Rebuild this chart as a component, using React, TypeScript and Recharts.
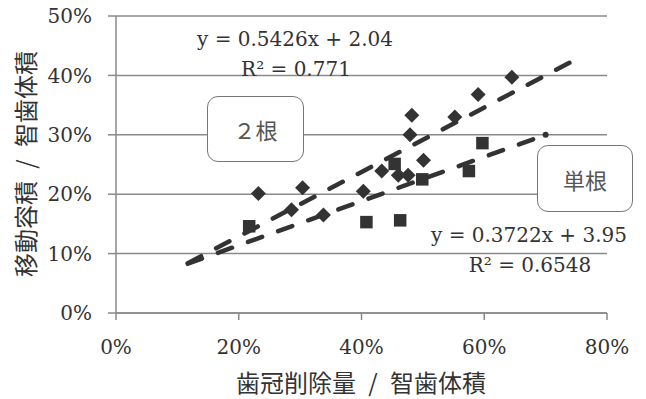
import React from 'react';
import { ComposedChart, Scatter, Line, XAxis, YAxis, CartesianGrid } from 'recharts';

const xTicks = [0, 20, 40, 60, 80];
const yTicks = [0, 10, 20, 30, 40, 50];

// 2根 (diamonds)
const twoRootX = [23.2, 30.4, 28.6, 33.8, 40.3, 43.3, 46.0, 47.6, 50.1, 47.9, 48.2, 55.2, 59.0, 64.5];
const twoRootY = [20.1, 21.1, 17.4, 16.5, 20.5, 23.9, 23.2, 23.2, 25.7, 30.0, 33.3, 33.0, 36.8, 39.7];

// 単根 (squares)
const singleRootX = [21.7, 40.8, 46.3, 45.4, 49.9, 57.5, 59.7];
const singleRootY = [14.6, 15.3, 15.6, 25.1, 22.5, 23.9, 28.6];

// trendlines (from the printed equations)
const twoRootSlope = 0.5426;
const twoRootIntercept = 2.04;
const twoRootRange = [11.7, 74.8];
const singleRootSlope = 0.3722;
const singleRootIntercept = 3.95;
const singleRootRange = [11.7, 70.0];

const twoRootEq = ['y = 0.5426x + 2.04', 'R² = 0.771'];
const singleRootEq = ['y = 0.3722x + 3.95', 'R² = 0.6548'];

const xTitle = '歯冠削除量 / 智歯体積';
const yTitle = '移動容積 / 智歯体積';
const twoRootName = '２根';
const singleRootName = '単根';

const twoRootData = twoRootX.map((x, i) => ({ x, y: twoRootY[i] }));
const singleRootData = singleRootX.map((x, i) => ({ x, y: singleRootY[i] }));
const twoRootTrend = twoRootRange.map((x) => ({ x, y: twoRootSlope * x + twoRootIntercept }));
const singleRootTrend = singleRootRange.map((x) => ({ x, y: singleRootSlope * x + singleRootIntercept }));

const INK = '#333333';
const GRID = '#8a8a8a';
const SERIF = '"DejaVu Serif", serif';
const CJK = '"Noto Sans CJK JP", sans-serif';

const Diamond = (props: any) => {
  const { cx, cy } = props;
  const r = 7.5;
  return <polygon points={`${cx},${cy - r} ${cx + r},${cy} ${cx},${cy + r} ${cx - r},${cy}`} fill={INK} />;
};

const Square = (props: any) => {
  const { cx, cy } = props;
  const s = 12.5;
  return <rect x={cx - s / 2} y={cy - s / 2} width={s} height={s} fill={INK} />;
};

const EndDot = (props: any) => {
  const { cx, cy, index } = props;
  if (index !== singleRootTrend.length - 1) return <g key={`d${index}`} />;
  return <circle key={`d${index}`} cx={cx} cy={cy} r={3} fill={INK} />;
};

const eqStyle: React.CSSProperties = {
  position: 'absolute',
  fontFamily: SERIF,
  fontSize: 20,
  lineHeight: '20px',
  color: INK,
  whiteSpace: 'nowrap',
  transform: 'translateX(-50%)',
};

const boxStyle: React.CSSProperties = {
  position: 'absolute',
  boxSizing: 'border-box',
  border: '1.5px solid #777',
  borderRadius: 11,
  background: '#fff',
  display: 'flex',
  alignItems: 'center',
  justifyContent: 'center',
  fontFamily: CJK,
  fontSize: 22,
  color: '#555',
};

export default function App() {
  return (
    <div style={{ position: 'absolute', left: 0, top: 0, width: 646, height: 399, background: '#fff' }}>
      <ComposedChart width={646} height={399} margin={{ top: 16, right: 39, left: 0, bottom: 0 }}>
        <CartesianGrid horizontal vertical={false} stroke={GRID} strokeWidth={1.5} />
        <XAxis
          type="number"
          dataKey="x"
          domain={[0, 80]}
          ticks={xTicks}
          height={86}
          tickFormatter={(v: number) => `${v}%`}
          stroke={GRID}
          strokeWidth={1.5}
          tickSize={7}
          tickMargin={20}
          tick={{ fill: INK, fontFamily: SERIF, fontSize: 20 }}
          allowDataOverflow
        />
        <YAxis
          type="number"
          dataKey="y"
          domain={[0, 50]}
          ticks={yTicks}
          width={116}
          tickFormatter={(v: number) => `${v}%`}
          stroke={GRID}
          strokeWidth={1.5}
          tickSize={8}
          tickMargin={16}
          tick={{ fill: INK, fontFamily: SERIF, fontSize: 20 }}
          allowDataOverflow
        />
        <Scatter data={twoRootData} shape={Diamond} isAnimationActive={false} />
        <Scatter data={singleRootData} shape={Square} isAnimationActive={false} />
        <Line
          data={twoRootTrend}
          dataKey="y"
          type="linear"
          stroke={INK}
          strokeWidth={4.5}
          strokeDasharray="15 17"
          strokeLinecap="round"
          dot={false}
          activeDot={false}
          isAnimationActive={false}
        />
        <Line
          data={singleRootTrend}
          dataKey="y"
          type="linear"
          stroke={INK}
          strokeWidth={4.5}
          strokeDasharray="15 17"
          strokeLinecap="round"
          dot={EndDot}
          activeDot={false}
          isAnimationActive={false}
        />
      </ComposedChart>

      <div style={{ ...eqStyle, left: 295, top: 29 }}>{twoRootEq[0]}</div>
      <div style={{ ...eqStyle, left: 296, top: 59 }}>{twoRootEq[1]}</div>
      <div style={{ ...eqStyle, left: 529, top: 225 }}>{singleRootEq[0]}</div>
      <div style={{ ...eqStyle, left: 530, top: 255 }}>{singleRootEq[1]}</div>

      <div style={{ ...boxStyle, left: 207, top: 96, width: 97, height: 66 }}>{twoRootName}</div>
      <div style={{ ...boxStyle, left: 537, top: 145, width: 96, height: 67 }}>{singleRootName}</div>

      <div
        style={{
          position: 'absolute',
          left: 361,
          top: 382,
          transform: 'translate(-50%, -50%)',
          fontFamily: CJK,
          fontSize: 24,
          lineHeight: '24px',
          wordSpacing: 7,
          color: INK,
          whiteSpace: 'nowrap',
        }}
      >
        {xTitle}
      </div>
      <div
        style={{
          position: 'absolute',
          left: 25,
          top: 164,
          transform: 'translate(-50%, -50%) rotate(-90deg)',
          fontFamily: CJK,
          fontSize: 24,
          lineHeight: '24px',
          wordSpacing: 7,
          color: INK,
          whiteSpace: 'nowrap',
        }}
      >
        {yTitle}
      </div>
    </div>
  );
}
